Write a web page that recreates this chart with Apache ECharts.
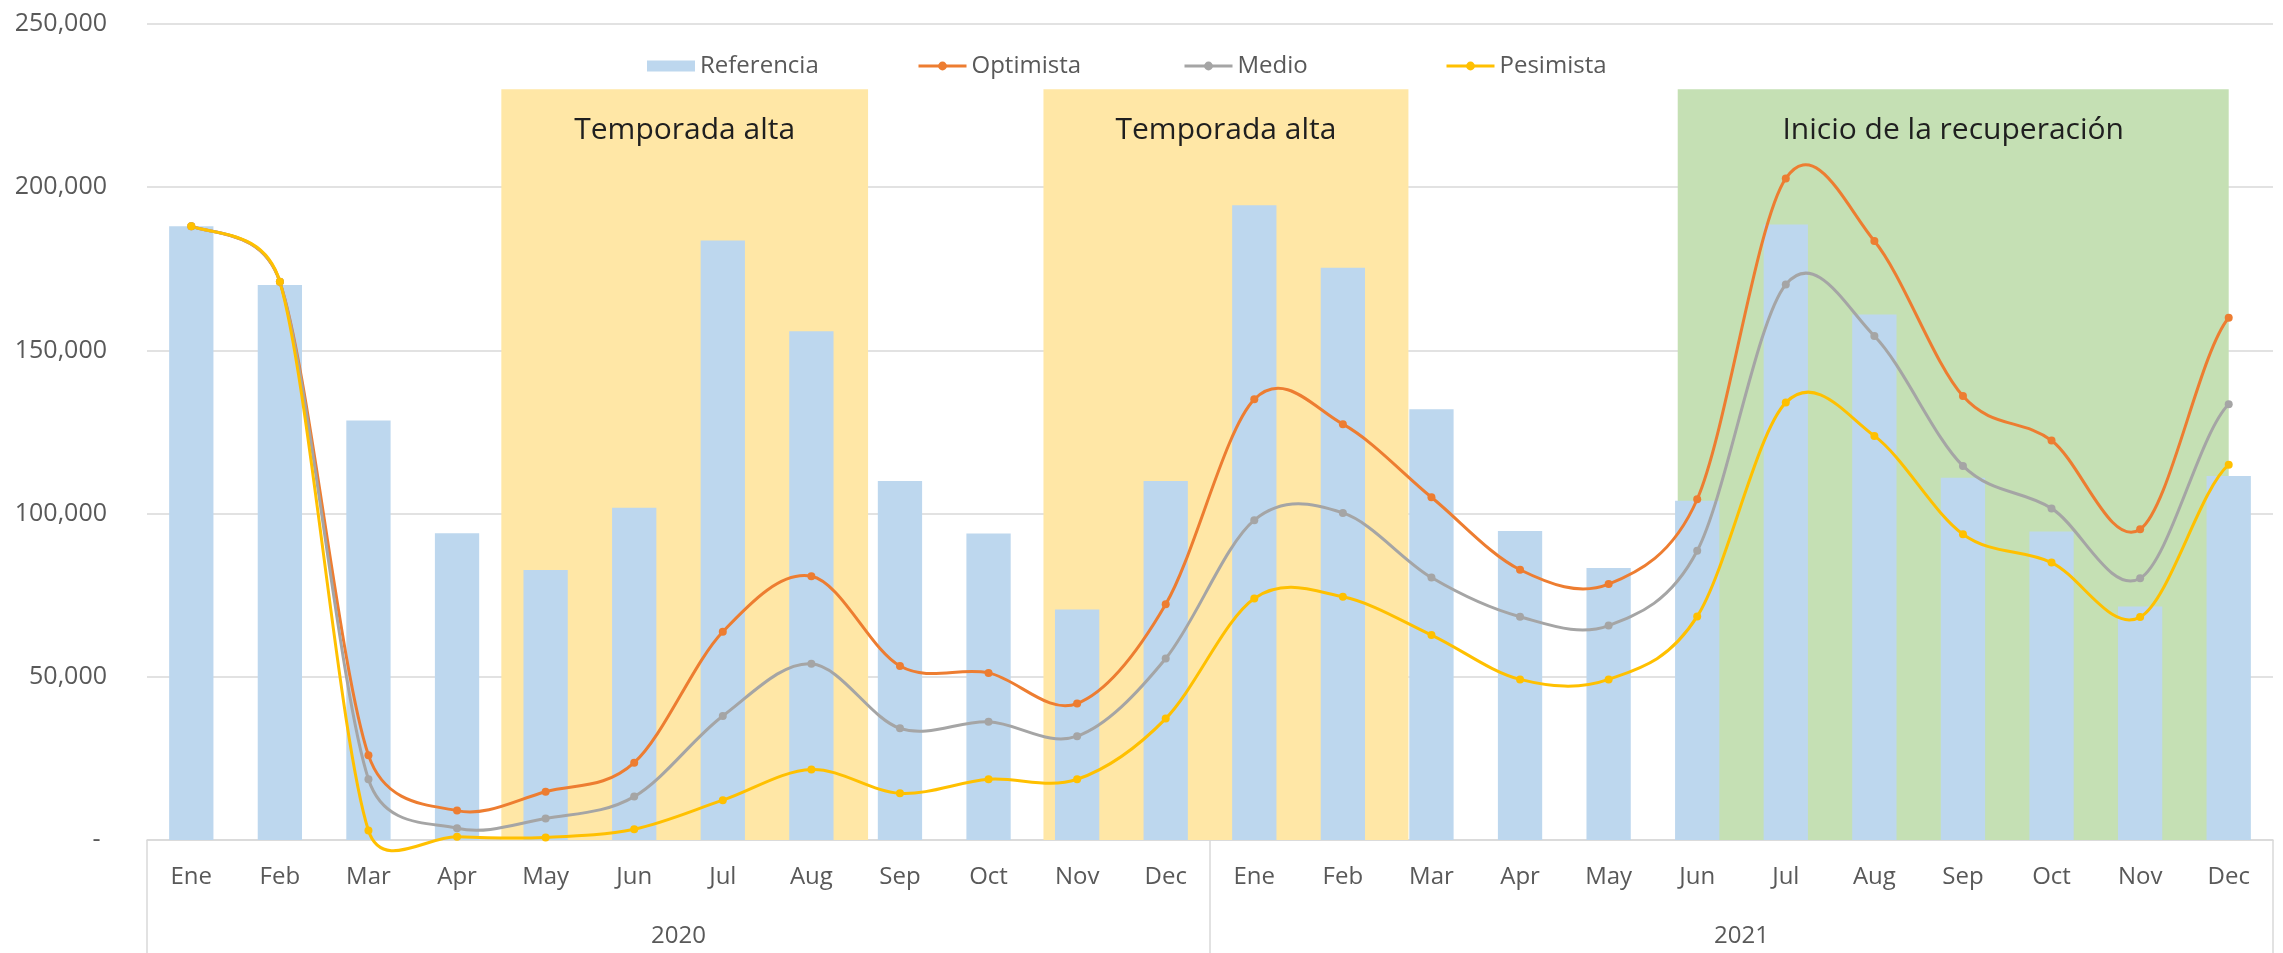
<!DOCTYPE html>
<html>
<head>
<meta charset="utf-8">
<script src="https://cdn.jsdelivr.net/npm/echarts@6/dist/echarts.min.js"></script>
<style>
  html, body { margin: 0; padding: 0; background: #fff; }
  #chart { width: 2283px; height: 953px; }
</style>
</head>
<body>
<div id="chart"></div>
<script>
// months repeat for both years
const meses = ["Ene", "Feb", "Mar", "Apr", "May", "Jun", "Jul", "Aug", "Sep", "Oct", "Nov", "Dec"]
const categorias = meses.concat(meses)
const anios = ["2020", "2021"]

const referencia = [188000, 170000, 128500, 94000, 82700, 101800, 183700, 155900, 110000, 93900, 70600, 110000,
  194500, 175300, 132000, 94700, 83300, 103900, 188600, 161000, 111000, 94500, 71500, 111500]
const optimista = [188000, 171000, 26000, 9000, 14800, 23700, 63800, 80800, 53300, 51200, 41800, 72200,
  135000, 127400, 105000, 82800, 78400, 104400, 202700, 183500, 136000, 122400, 95200, 160000]
const medio = [188000, 171000, 18600, 3600, 6600, 13300, 38000, 54000, 34200, 36200, 31800, 55600,
  98000, 100200, 80400, 68400, 65700, 88600, 170200, 154400, 114600, 101600, 80200, 133500]
const pesimista = [188000, 171000, 2900, 1000, 800, 3300, 12200, 21600, 14300, 18600, 18600, 37200,
  74000, 74500, 62800, 49200, 49200, 68500, 134000, 123800, 93700, 85000, 68300, 115000]

// shaded periods, in category index units
const bandasTexto = ["Temporada alta", "Temporada alta", "Inicio de la recuperación"]
const bandasDesde = [3.5, 9.62, 16.78]
const bandasHasta = [7.64, 13.74, 23.0]
const bandasTecho = 230000

const bandColors = ["#FFE7A6", "#FFE7A6", "#C5E0B4"]
const font = "Open Sans"
const textGray = "#595959"
const lineGray = "#D9D9D9"
const colors = { Optimista: "#ED7D31", Medio: "#A5A5A5", Pesimista: "#FFC000" }

const chart = echarts.init(document.getElementById("chart"))

// markers only, the curve itself is drawn by the custom series below
const markerSeries = (name, data) => ({
  name,
  type: "line",
  data,
  symbol: "circle",
  symbolSize: 8,
  lineStyle: { opacity: 0 },
  itemStyle: { color: colors[name] },
  z: 5,
})

// Excel-like smoothed line: bezier per segment, arm 1/6 of the chord,
// capped at half the segment length
const curveSeries = (name, values) => ({
  type: "custom",
  data: values.map((v, i) => [i, v]),
  z: 4,
  silent: true,
  renderItem: (params, api) => {
    const i = params.dataIndex
    const n = values.length
    if (i >= n - 1) return null
    const pt = (k) => api.coord([k, values[Math.max(0, Math.min(n - 1, k))]])
    const p0 = pt(i - 1), p1 = pt(i), p2 = pt(i + 1), p3 = pt(i + 2)
    const dist = (a, b) => Math.hypot(a[0] - b[0], a[1] - b[1])
    const d12 = dist(p1, p2)
    const arm = (a, b) => {
      const d = dist(a, b)
      if (d === 0) return 0
      return Math.min(1 / 6, d12 / 2 / d)
    }
    const f1 = arm(p0, p2)
    const f2 = arm(p1, p3)
    const c1 = [p1[0] + (p2[0] - p0[0]) * f1, p1[1] + (p2[1] - p0[1]) * f1]
    const c2 = [p2[0] - (p3[0] - p1[0]) * f2, p2[1] - (p3[1] - p1[1]) * f2]
    return {
      type: "bezierCurve",
      shape: { x1: p1[0], y1: p1[1], cpx1: c1[0], cpy1: c1[1], cpx2: c2[0], cpy2: c2[1], x2: p2[0], y2: p2[1] },
      style: { stroke: colors[name], lineWidth: 3, fill: null, lineCap: "round" },
    }
  },
})

// one legend per entry so the entries sit in equal slots like Excel
const legendItem = (item, left) => ({
  data: [item],
  left,
  top: 49,
  itemWidth: 48,
  itemHeight: 11,
  textStyle: { color: textGray, fontSize: 24, fontFamily: font },
})

const legendLine = (name) => ({
  name,
  lineStyle: { color: colors[name], width: 3, opacity: 1 },
  itemStyle: { color: colors[name] },
})

const option = {
  animation: false,
  textStyle: { fontFamily: font },
  legend: [
    legendItem({ name: "Referencia", icon: "rect" }, 642),
    legendItem(legendLine("Optimista"), 912),
    legendItem(legendLine("Medio"), 1178),
    legendItem(legendLine("Pesimista"), 1440),
  ],
  grid: { left: 147, right: 10, top: 24, bottom: 113 },
  xAxis: [
    {
      type: "category",
      data: categorias,
      position: "bottom",
      axisLine: { lineStyle: { color: lineGray, width: 1.5 } },
      axisTick: { show: false },
      axisLabel: { color: textGray, fontSize: 24, margin: 25, interval: 0 },
    },
    {
      type: "category",
      data: anios,
      position: "bottom",
      axisLine: { show: false },
      axisTick: { show: true, length: 115, interval: 0, lineStyle: { color: lineGray, width: 1.5 } },
      axisLabel: { color: textGray, fontSize: 24, margin: 84 },
    },
    { type: "value", min: -0.5, max: 23.5, show: false },
  ],
  yAxis: {
    type: "value",
    min: 0,
    max: 250000,
    interval: 50000,
    axisLine: { show: false },
    axisTick: { show: false },
    splitLine: { lineStyle: { color: lineGray, width: 1.5 } },
    axisLabel: {
      color: textGray,
      fontSize: 25,
      margin: 40,
      formatter: (v) => (v === 0 ? "- " : v.toLocaleString("en-US")),
    },
  },
  series: [
    {
      name: "bandas",
      type: "line",
      xAxisIndex: 2,
      data: [],
      z: 1,
      markArea: {
        silent: true,
        data: bandasTexto.map((t, i) => [
          {
            name: t,
            xAxis: bandasDesde[i],
            yAxis: bandasTecho,
            itemStyle: { color: bandColors[i] },
          },
          { xAxis: bandasHasta[i], yAxis: 0 },
        ]),
        label: {
          show: true,
          position: "insideTop",
          distance: 26,
          color: "#1F1F1F",
          fontSize: 30,
          fontFamily: font,
        },
      },
    },
    {
      name: "Referencia",
      type: "bar",
      data: referencia,
      barWidth: "50%",
      itemStyle: { color: "#BDD7EE" },
      z: 2,
    },
    markerSeries("Optimista", optimista),
    markerSeries("Medio", medio),
    markerSeries("Pesimista", pesimista),
    curveSeries("Optimista", optimista),
    curveSeries("Medio", medio),
    curveSeries("Pesimista", pesimista),
  ],
}

chart.setOption(option)
</script>
</body>
</html>
